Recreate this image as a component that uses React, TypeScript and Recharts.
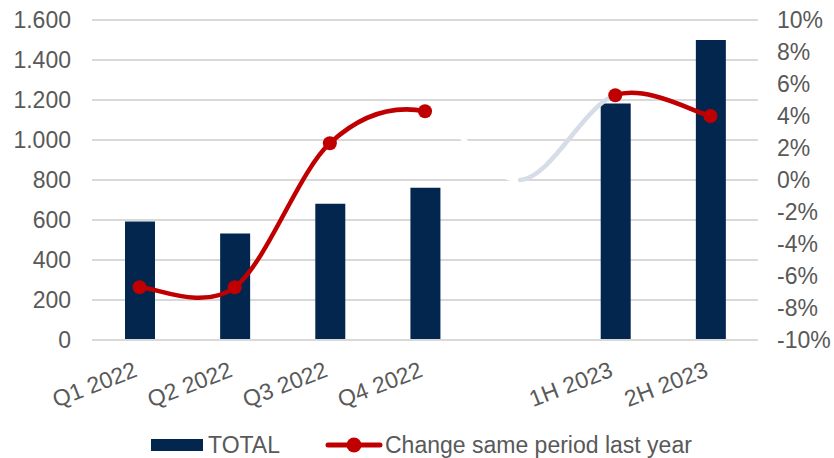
import { ComposedChart, Bar, Line, XAxis, YAxis, CartesianGrid, Legend } from 'recharts';

const categories = ['Q1 2022', 'Q2 2022', 'Q3 2022', 'Q4 2022', '', '1H 2023', '2H 2023'];
const totals = [593, 533, 681, 761, null, 1183, 1500];
const change = [-6.7, -6.7, 2.3, 4.3, 0, 5.3, 4.0];
const leftTicks = [0, 200, 400, 600, 800, 1000, 1200, 1400, 1600];
const rightTicks = [-10, -8, -6, -4, -2, 0, 2, 4, 6, 8, 10];

const data = categories.map((cat, i) => ({ cat, total: totals[i], chg: change[i] }));
const GAP = categories.indexOf('');

const NAVY = '#03264F';
const RED = '#C00000';
const GREY = '#595959';
const FONT = '"Liberation Sans", Arial, sans-serif';

// excel-like smoothed line, only draws the segments we ask for
const smooth = (keep: (i: number) => boolean) => (ctx: any) => {
  let pts: number[][] = [];
  return {
    areaStart() {},
    areaEnd() {},
    lineStart() {
      pts = [];
    },
    point(x: number, y: number) {
      pts.push([+x, +y]);
    },
    lineEnd() {
      const n = pts.length;
      const k = 1 / 6;
      let open = false;
      for (let i = 0; i < n - 1; i++) {
        if (!keep(i)) {
          open = false;
          continue;
        }
        const p0 = pts[Math.max(i - 1, 0)];
        const p1 = pts[i];
        const p2 = pts[i + 1];
        const p3 = pts[Math.min(i + 2, n - 1)];
        if (!open) ctx.moveTo(p1[0], p1[1]);
        ctx.bezierCurveTo(
          p1[0] + (p2[0] - p0[0]) * k,
          p1[1] + (p2[1] - p0[1]) * k,
          p2[0] - (p3[0] - p1[0]) * k,
          p2[1] - (p3[1] - p1[1]) * k,
          p2[0],
          p2[1]
        );
        open = true;
      }
    },
  };
};

const redCurve = smooth((i) => i !== GAP - 1 && i !== GAP);
const whiteCurve = smooth((i) => i === GAP - 1);
const paleCurve = smooth((i) => i === GAP);

const fmtThousands = (v: number) => String(v).replace(/\B(?=(\d{3})+(?!\d))/g, '.');

const RedDot = (p: any) => {
  const { cx, cy, index } = p;
  if (index === GAP || cx == null) return <g key={`d${index}`} />;
  return <circle key={`d${index}`} cx={cx} cy={cy} r={7} fill={RED} />;
};

const XTick = ({ x, y, payload }: any) => {
  const ax = x - 1;
  const ay = y + 28;
  return (
    <text
      x={ax}
      y={ay}
      textAnchor="end"
      fill={GREY}
      fontSize={23}
      fontFamily={FONT}
      transform={`rotate(-21 ${ax} ${ay})`}
    >
      {payload.value}
    </text>
  );
};

const LegendBox = ({ payload }: any) => {
  const items = (payload || [])
    .filter((it: any) => it.type !== 'none' && it.value !== 'chg')
    .sort((a: any, b: any) => (a.type === 'line' ? 1 : 0) - (b.type === 'line' ? 1 : 0));
  return (
    <div
      style={{
        width: 834,
        height: 36,
        boxSizing: 'border-box',
        paddingTop: 10,
        paddingLeft: 151,
        display: 'flex',
        alignItems: 'center',
        fontFamily: FONT,
        fontSize: 23,
        color: GREY,
        whiteSpace: 'nowrap',
      }}
    >
      {items.map((item: any, i: number) => (
        <div key={i} style={{ display: 'flex', alignItems: 'center', marginLeft: i === 0 ? 0 : 45, height: 26 }}>
          {item.type === 'line' ? (
            <svg width={58} height={16}>
              <line x1={3} x2={55} y1={8} y2={8} stroke={RED} strokeWidth={5} strokeLinecap="round" />
              <circle cx={29} cy={8} r={7.5} fill={RED} />
            </svg>
          ) : (
            <svg width={52} height={12}>
              <rect width={52} height={12} fill={NAVY} />
            </svg>
          )}
          <span style={{ marginLeft: item.type === 'line' ? 2 : 5 }}>{item.value}</span>
        </div>
      ))}
    </div>
  );
};

export default function App() {
  return (
    <div style={{ position: 'absolute', left: 0, top: 0, background: '#fff' }}>
      <ComposedChart width={834} height={458} data={data} margin={{ top: 20, right: 0, left: 0, bottom: 0 }}>
        <CartesianGrid yAxisId="l" vertical={false} stroke="#d9d9d9" strokeWidth={2} />
        <XAxis
          dataKey="cat"
          height={82}
          interval={0}
          tickLine={false}
          axisLine={{ stroke: '#d9d9d9', strokeWidth: 2 }}
          tick={<XTick />}
        />
        <YAxis
          yAxisId="l"
          width={92}
          domain={[0, 1600]}
          ticks={leftTicks}
          tickFormatter={fmtThousands}
          tickLine={false}
          axisLine={false}
          tickMargin={15}
          tick={{ fill: GREY, fontSize: 23, fontFamily: FONT }}
        />
        <YAxis
          yAxisId="r"
          orientation="right"
          width={76}
          domain={[-10, 10]}
          ticks={rightTicks}
          tickFormatter={(v: number) => `${v}%`}
          tickLine={false}
          axisLine={false}
          tickMargin={13}
          tick={{ fill: GREY, fontSize: 23, fontFamily: FONT, textAnchor: 'start' }}
        />
        <Legend verticalAlign="bottom" align="left" content={<LegendBox />} />
        <Bar yAxisId="l" dataKey="total" name="TOTAL" fill={NAVY} barSize={30} isAnimationActive={false} />
        <Line
          yAxisId="r"
          dataKey="chg"
          type={whiteCurve as any}
          stroke="#ffffff"
          strokeWidth={4.5}
          dot={false}
          activeDot={false}
          legendType="none"
          isAnimationActive={false}
        />
        <Line
          yAxisId="r"
          dataKey="chg"
          type={paleCurve as any}
          stroke="#D6DCE8"
          strokeWidth={4.5}
          strokeLinecap="round"
          dot={false}
          activeDot={false}
          legendType="none"
          isAnimationActive={false}
        />
        <Line
          yAxisId="r"
          dataKey="chg"
          name="Change same period last year"
          type={redCurve as any}
          stroke={RED}
          strokeWidth={4.5}
          strokeLinecap="round"
          dot={RedDot}
          activeDot={false}
          isAnimationActive={false}
        />
      </ComposedChart>
    </div>
  );
}
